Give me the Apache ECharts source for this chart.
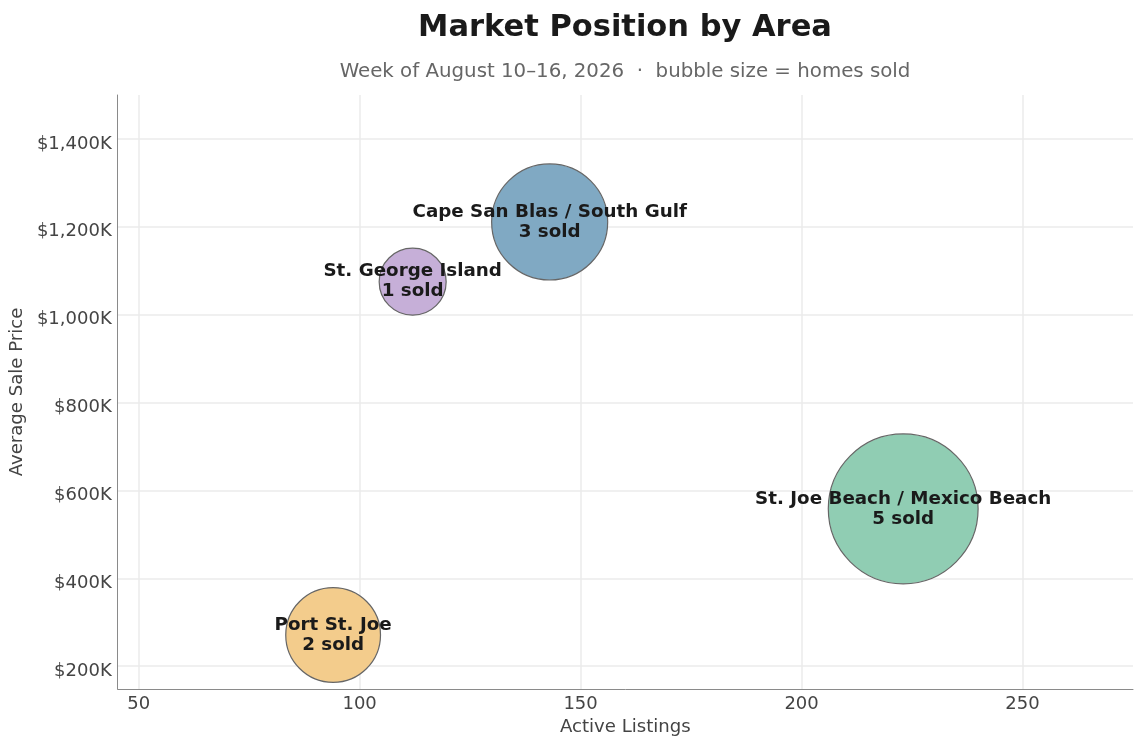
<!DOCTYPE html>
<html>
<head>
<meta charset="utf-8">
<script src="https://cdn.jsdelivr.net/npm/echarts@6/dist/echarts.min.js"></script>
<style>
html,body{margin:0;padding:0;background:#fff;}
#chart{width:1143px;height:748px;}
</style>
</head>
<body>
<div id="chart"></div>
<script>
var areas = ['Port St. Joe', 'St. George Island', 'Cape San Blas / South Gulf', 'St. Joe Beach / Mexico Beach'];
var activeListings = [94, 112, 143, 223];
var avgPriceK = [271, 1075, 1211, 558];
var homesSold = [2, 1, 3, 5];
var colors = ['#f3cc8c', '#c6afd8', '#80a9c3', '#90cdb3'];
var xTicks = [50, 100, 150, 200, 250];
var yTicks = [200, 400, 600, 800, 1000, 1200, 1400];

var FONT = 'DejaVu Sans';
var data = areas.map(function (name, i) {
  return {
    name: name,
    value: [activeListings[i], avgPriceK[i], homesSold[i]],
    itemStyle: { color: colors[i] }
  };
});

var chart = echarts.init(document.getElementById('chart'), null, { renderer: 'canvas' });
chart.setOption({
  animation: false,
  backgroundColor: '#ffffff',
  textStyle: { fontFamily: FONT },
  title: [
    {
      text: 'Market Position by Area',
      left: 625, top: 13, padding: 0, textAlign: 'center',
      textStyle: { fontFamily: FONT, fontSize: 30.5, fontWeight: 'bold', color: '#1a1a1a' }
    },
    {
      text: 'Week of August 10\u201316, 2026  \u00b7  bubble size = homes sold',
      left: 625, top: 62, padding: 0, textAlign: 'center',
      textStyle: { fontFamily: FONT, fontSize: 19.8, fontWeight: 'normal', color: '#666666' }
    }
  ],
  grid: { left: 117, right: 10, top: 95, bottom: 59, containLabel: false },
  xAxis: {
    type: 'value',
    min: 45.25, max: 275,
    name: 'Active Listings',
    nameLocation: 'middle',
    nameGap: 29,
    nameTextStyle: { fontFamily: FONT, fontSize: 18.1, color: '#444444' },
    axisLine: { show: true, lineStyle: { color: '#8a8a8a', width: 1 } },
    axisTick: { show: false, customValues: xTicks },
    axisLabel: { customValues: xTicks, margin: 6, fontFamily: FONT, fontSize: 18, color: '#444444' },
    splitLine: { show: true, lineStyle: { color: '#ebebeb', width: 1.5 } }
  },
  yAxis: {
    type: 'value',
    min: 148, max: 1500,
    name: 'Average Sale Price',
    nameLocation: 'middle',
    nameGap: 89,
    nameTextStyle: { fontFamily: FONT, fontSize: 18.1, color: '#444444' },
    axisLine: { show: true, lineStyle: { color: '#8a8a8a', width: 1 } },
    axisTick: { show: false, customValues: yTicks },
    axisLabel: {
      customValues: yTicks, margin: 6, fontFamily: FONT, fontSize: 18, color: '#444444',
      verticalAlign: 'top', lineHeight: 10,
      formatter: function (v) { return '$' + v.toLocaleString('en-US') + 'K'; }
    },
    splitLine: { show: true, lineStyle: { color: '#ebebeb', width: 1.5 } }
  },
  series: [{
    type: 'scatter',
    data: data,
    symbolSize: function (val) { return 67 * Math.sqrt(val[2]); },
    itemStyle: { borderColor: '#666666', borderWidth: 1.2, opacity: 1 },
    label: {
      show: true,
      position: 'inside',
      formatter: function (p) { return p.name + '\n' + p.value[2] + ' sold'; },
      fontFamily: FONT, fontSize: 18.3, fontWeight: 'bold', color: '#1a1a1a',
      lineHeight: 20, align: 'center', padding: [2, 0, 0, 0]
    },
    labelLayout: { hideOverlap: false },
    emphasis: { disabled: true }
  }]
});
</script>
</body>
</html>
